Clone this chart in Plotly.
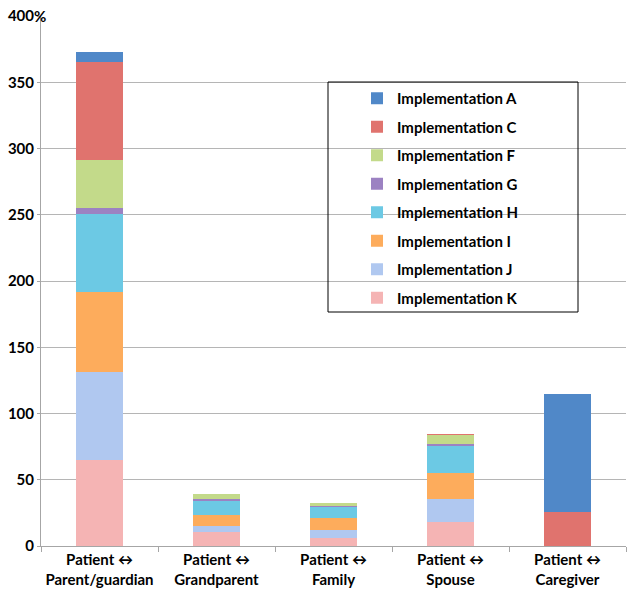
import plotly.graph_objects as go

categories = ["Patient ↔<br>Parent/guardian", "Patient ↔<br>Grandparent",
              "Patient ↔<br>Family", "Patient ↔<br>Spouse", "Patient ↔<br>Caregiver"]

impl_K = [65, 10.8, 6.3, 17.8, 0]
impl_J = [66, 4.5, 5.8, 17.6, 0]
impl_I = [60.5, 8, 8.9, 19.9, 0]
impl_H = [59, 10.8, 8.7, 20.6, 0]
impl_G = [4.5, 1, 0.8, 1, 0]
impl_F = [36, 3.8, 2.3, 7, 0]
impl_C = [74, 0, 0, 0.5, 25.4]
impl_A = [8, 0, 0, 0, 89]

y_ticks = [0, 50, 100, 150, 200, 250, 300, 350, 400]
y_tick_labels = ["0", "50", "100", "150", "200", "250", "300", "350", "400"]
y_unit = "%"

series = [
    ("Implementation K", impl_K, "#f5b4b4"),
    ("Implementation J", impl_J, "#b0c8f0"),
    ("Implementation I", impl_I, "#fdac5c"),
    ("Implementation H", impl_H, "#6cc9e4"),
    ("Implementation G", impl_G, "#9c82c2"),
    ("Implementation F", impl_F, "#c3da8a"),
    ("Implementation C", impl_C, "#e0736e"),
    ("Implementation A", impl_A, "#5088c8"),
]

FONT = "Lato"

fig = go.Figure()
for i, (name, vals, col) in enumerate(series):
    fig.add_trace(go.Bar(
        x=categories, y=vals, name=name,
        marker=dict(color=col, line=dict(width=0)),
        legendgroup=name,
        legendrank=len(series) - i,
    ))

fig.update_layout(
    width=631, height=598,
    barmode="stack", bargap=0.6,
    plot_bgcolor="white", paper_bgcolor="white",
    margin=dict(l=41, r=5, t=16, b=52, autoexpand=False),
    font=dict(family=FONT, size=15, color="black"),
    showlegend=True,
    legend=dict(
        x=(357 - 41) / 585, xanchor="left",
        y=(546 - 82) / 530, yanchor="top",
        bgcolor="rgba(0,0,0,0)", borderwidth=0,
        traceorder="grouped", tracegroupgap=6,
        font=dict(family=FONT, size=15, color="black", weight="bold"),
    ),
    shapes=[dict(type="rect", xref="paper", yref="paper",
                 x0=(328 - 41) / 585, x1=(578 - 41) / 585,
                 y0=(546 - 312) / 530, y1=(546 - 82) / 530,
                 line=dict(color="black", width=1), fillcolor="rgba(0,0,0,0)")],
    annotations=[dict(text=y_unit, xref="paper", yref="y",
                      x=(33 - 41) / 585, y=y_ticks[-1], xanchor="left", yanchor="middle",
                      showarrow=False, borderpad=0,
                      font=dict(family=FONT, size=15, color="black", weight="bold"))],
)

fig.update_xaxes(
    showgrid=False, showline=True, linecolor="#a6a6a6", linewidth=1,
    ticks="outside", tickson="boundaries", ticklen=5, tickcolor="#a6a6a6",
    tickfont=dict(family=FONT, size=15, color="black", weight="bold"),
    tickangle=0, automargin=False,
)
fig.update_yaxes(
    range=[0, 400], tickvals=y_ticks, ticktext=y_tick_labels,
    showgrid=True, gridcolor="#b5b5b5", gridwidth=1,
    showline=True, linecolor="#a6a6a6", linewidth=1,
    ticks="outside", ticklen=3, tickcolor="#a6a6a6",
    tickfont=dict(family=FONT, size=15, color="black", weight="bold"),
    zeroline=False, automargin=False,
)

fig.write_html("out.html", config={"displayModeBar": False},
               post_script="document.body.style.margin='0px';")
